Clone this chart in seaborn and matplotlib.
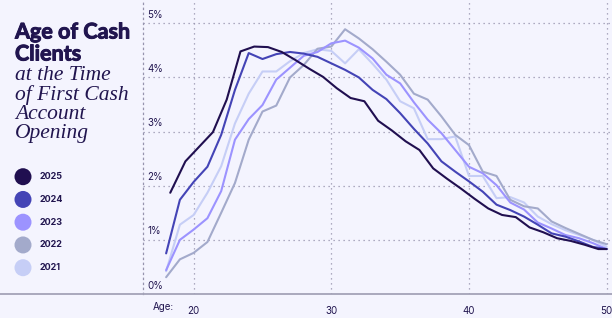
import matplotlib
matplotlib.use("Agg")
import matplotlib.pyplot as plt
from matplotlib.lines import Line2D
from matplotlib.patches import Rectangle, Ellipse
import matplotlib.patheffects as pe
import matplotlib.transforms as mtransforms
import numpy as np
import pandas as pd
import seaborn as sns

# ---- data: share of first cash account openings by client age (%) ----
ages = list(range(18, 51))
ages_2025 = [18.3, 19.4, 20.4, 21.4, 22.4, 23.4, 24.4, 25.4, 26.4, 27.4, 28.4,
             29.4, 30.4, 31.4, 32.4, 33.4, 34.4, 35.4, 36.4, 37.4, 38.4, 39.4,
             40.4, 41.4, 42.4, 43.4, 44.4, 45.4, 46.4, 47.4, 48.4, 49.4, 50.0]

share_2025 = [1.87, 2.45, 2.72, 2.99, 3.59, 4.48, 4.57, 4.56, 4.47, 4.32, 4.16,
              4.01, 3.80, 3.62, 3.56, 3.20, 3.02, 2.82, 2.66, 2.32, 2.13, 1.95,
              1.76, 1.58, 1.46, 1.42, 1.23, 1.14, 1.03, 0.98, 0.91, 0.83, 0.83]
share_2024 = [0.75, 1.74, 2.07, 2.35, 2.94, 3.77, 4.45, 4.34, 4.43, 4.47, 4.44,
              4.38, 4.26, 4.14, 4.00, 3.77, 3.60, 3.34, 3.05, 2.78, 2.45, 2.26,
              2.08, 1.89, 1.65, 1.55, 1.43, 1.28, 1.12, 1.06, 0.97, 0.87, 0.83]
share_2023 = [0.44, 1.00, 1.19, 1.40, 1.90, 2.85, 3.23, 3.49, 3.96, 4.18, 4.40,
              4.47, 4.63, 4.68, 4.55, 4.35, 4.05, 3.89, 3.54, 3.22, 2.97, 2.66,
              2.35, 2.23, 2.01, 1.69, 1.56, 1.32, 1.21, 1.09, 1.03, 0.94, 0.83]
share_2022 = [0.31, 0.64, 0.76, 0.96, 1.50, 2.05, 2.85, 3.37, 3.48, 4.00, 4.23,
              4.53, 4.57, 4.89, 4.72, 4.52, 4.29, 4.05, 3.70, 3.59, 3.28, 2.94,
              2.75, 2.26, 2.18, 1.74, 1.62, 1.58, 1.34, 1.22, 1.11, 1.00, 0.92]
share_2021 = [0.42, 1.28, 1.46, 1.87, 2.36, 3.15, 3.70, 4.11, 4.11, 4.30, 4.45,
              4.52, 4.49, 4.26, 4.52, 4.25, 3.96, 3.56, 3.43, 2.86, 2.86, 2.91,
              2.18, 2.18, 1.77, 1.79, 1.69, 1.43, 1.29, 1.18, 1.09, 1.00, 0.87]

years = ["2025", "2024", "2023", "2022", "2021"]
colors = {"2025": "#200F50", "2024": "#4444B6", "2023": "#9C93FF",
          "2022": "#A3AACB", "2021": "#C6CEF6"}

y_ticks = [0, 1, 2, 3, 4, 5]
y_tick_labels = ["0%", "1%", "2%", "3%", "4%", "5%"]
x_ticks = [20, 30, 40, 50]
x_tick_labels = ["20", "30", "40", "50"]

series = {"2025": (ages_2025, share_2025), "2024": (ages, share_2024),
          "2023": (ages, share_2023), "2022": (ages, share_2022),
          "2021": (ages, share_2021)}
rows = []
for yr, (xs, vs) in series.items():
    for a, v in zip(xs, vs):
        rows.append({"age": a, "share": v, "year": yr})
df = pd.DataFrame(rows)

# ---- styling ----
BG = "#F4F4FE"
INK = "#21154F"
GRID = "#9694AE"

sns.set_theme(style="white")
plt.rcParams["font.family"] = ["Inter", "DejaVu Sans"]

W, H = 612, 329
fig = plt.figure(figsize=(W / 100, H / 100), dpi=100, facecolor=BG)

# white strip along the bottom edge
fig.add_artist(Rectangle((0, 0), 1, 11 / H, transform=fig.transFigure,
                         facecolor="white", edgecolor="none", zorder=0))

ax_left, ax_right, ax_top, ax_bottom = 143, 612, 0, 294
ax = fig.add_axes([ax_left / W, 1 - ax_bottom / H,
                   (ax_right - ax_left) / W, (ax_bottom - ax_top) / H])
ax.set_facecolor(BG)

sns.lineplot(data=df, x="age", y="share", hue="year",
             hue_order=["2021", "2022", "2023", "2024", "2025"],
             palette=colors, linewidth=1.5, errorbar=None, legend=False,
             ax=ax, zorder=3)

ax.set_xlim(16.32, 50.39)
ax.set_ylim(0, 5.43)
ax.set_xlabel("")
ax.set_ylabel("")

for s in ["top", "right", "bottom"]:
    ax.spines[s].set_visible(False)
ax.spines["left"].set_linestyle((0, (1, 3)))
ax.spines["left"].set_color(GRID)
ax.spines["left"].set_linewidth(0.9)

ax.set_yticks(y_ticks[1:])
ax.set_yticklabels([])
ax.set_xticks(x_ticks)
ax.set_xticklabels(x_tick_labels, fontsize=7, color=INK)
ax.tick_params(axis="both", length=0)
ax.tick_params(axis="x", pad=9)
ax.grid(True, linestyle=(0, (1, 3)), color=GRID, linewidth=0.9)

# y tick labels sit just above their gridlines
ylab_tr = mtransforms.blended_transform_factory(ax.transAxes, ax.transData)
for v, lab in zip(y_ticks, y_tick_labels):
    ax.text(4 / (ax_right - ax_left), v + 0.155, lab, transform=ylab_tr,
            fontsize=7, color=INK, ha="left", va="center")

xlab_tr = mtransforms.blended_transform_factory(ax.transData, ax.transAxes)
ax.text(17.8, -13 / 294, "Age:", transform=xlab_tr, fontsize=7,
        color=INK, ha="center", va="center")

# baseline running across the full width
fig.add_artist(Line2D([0, 1], [1 - 294 / H, 1 - 294 / H],
                      transform=fig.transFigure, color="#A4A3B8", linewidth=1.3))

# ---- title block ----
heavy = [pe.withStroke(linewidth=0.7, foreground=INK)]
for txt, yc in [("Age of Cash", 32), ("Clients", 54)]:
    fig.text(15 / W, 1 - yc / H, txt, fontsize=15.5, fontweight="bold",
             color=INK, ha="left", va="center", path_effects=heavy,
             family=["Lato", "DejaVu Sans"])
for i, line in enumerate(["at the Time", "of First Cash", "Account", "Opening"]):
    fig.text(15 / W, 1 - (76 + i * 19.3) / H, line, fontsize=15.5,
             style="italic", color=INK, ha="left", va="center",
             family=["Liberation Serif", "DejaVu Serif"])

# ---- legend ----
r = 8.5
for i, yr in enumerate(years):
    cy = 176.7 + i * 22.75
    fig.add_artist(Ellipse((23 / W, 1 - cy / H), 2 * r / W, 2 * r / H,
                           transform=fig.transFigure, facecolor=colors[yr],
                           edgecolor="none"))
    fig.text(40 / W, 1 - cy / H, yr, fontsize=6.5, fontweight="bold",
             color=INK, ha="left", va="center")

fig.savefig("out.png", dpi=100, facecolor=BG)
